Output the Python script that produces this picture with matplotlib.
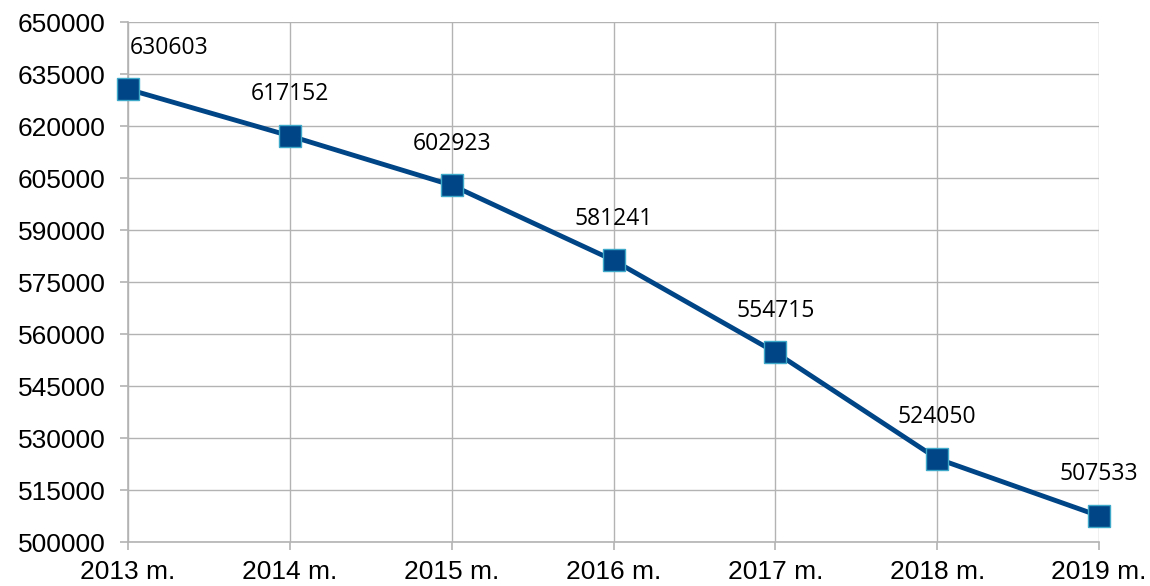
import matplotlib.pyplot as plt
import numpy as np

years = ['2013 m.', '2014 m.', '2015 m.', '2016 m.', '2017 m.', '2018 m.', '2019 m.']
values = [630603, 617152, 602923, 581241, 554715, 524050, 507533]
y_ticks = list(range(500000, 650001, 15000))

line_color = '#004586'
grid_color = '#b3b3b3'

fig = plt.figure(figsize=(11.5, 5.86), dpi=100)
ax = fig.add_axes([128 / 1150, 1 - 542 / 586, (1099 - 128) / 1150, (542 - 22) / 586])

x = np.arange(len(years))
ax.plot(x, values, color=line_color, linewidth=3.5, zorder=5, clip_on=False)
ax.plot(x, values, linestyle='none', marker='s', markersize=16.5,
        markerfacecolor=line_color, markeredgecolor='#3fa9c9', markeredgewidth=1,
        zorder=6, clip_on=False)

for i, v in enumerate(values):
    ha = 'left' if i == 0 else 'center'
    dx = 1 if i == 0 else 0
    ax.annotate(str(v), (x[i], v), xytext=(dx, 30), textcoords='offset points',
                ha=ha, va='center', fontsize=16.5, family='Open Sans', color='black')

ax.set_xlim(0, len(years) - 1)
ax.set_ylim(500000, 650000)
ax.set_yticks(y_ticks)
ax.set_yticklabels([str(t) for t in y_ticks], fontsize=19, family='Liberation Sans')
ax.set_xticks(x)
ax.set_xticklabels(years, fontsize=19, family='Liberation Sans')

ax.grid(True, color=grid_color, linewidth=1)
ax.set_axisbelow(True)
for side in ['top', 'right']:
    ax.spines[side].set_visible(False)
for side in ['left', 'bottom']:
    ax.spines[side].set_color(grid_color)
    ax.spines[side].set_linewidth(1.2)
ax.tick_params(axis='both', color=grid_color, length=6, width=1.2)
ax.tick_params(axis='y', pad=10)
ax.tick_params(axis='x', pad=7)

fig.savefig('out.png', dpi=100)
